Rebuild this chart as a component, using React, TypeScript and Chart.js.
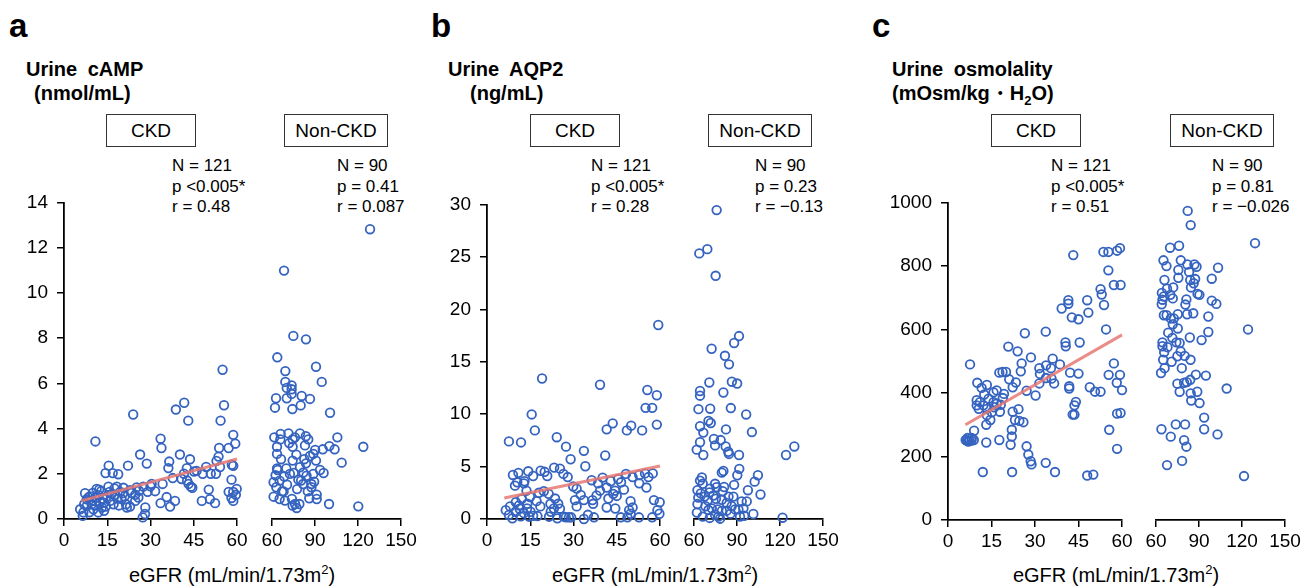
import React, { useEffect, useRef } from "react";
import { Chart, registerables } from "chart.js";
Chart.register(...registerables);

type Pt = [number, number];

const FONT = '"Liberation Sans", Arial, Helvetica, sans-serif';
const BLUE = "#3563C0";
const FIT = "rgba(230,120,115,0.85)";

// ---- tick labels ----
const ckdTicksX = [0, 15, 30, 45, 60];
const nonCkdTicksX = [60, 90, 120, 150];
const campTicksY = [0, 2, 4, 6, 8, 10, 12, 14];
const aqp2TicksY = [0, 5, 10, 15, 20, 25, 30];
const osmTicksY = [0, 200, 400, 600, 800, 1000];

// ---- stats text ----
const campStatsCkd = ["N = 121", "p <0.005*", "r = 0.48"];
const campStatsNon = ["N = 90", "p = 0.41", "r = 0.087"];
const aqp2StatsCkd = ["N = 121", "p <0.005*", "r = 0.28"];
const aqp2StatsNon = ["N = 90", "p = 0.23", "r = \u22120.13"];
const osmStatsCkd = ["N = 121", "p <0.005*", "r = 0.51"];
const osmStatsNon = ["N = 90", "p = 0.81", "r = \u22120.026"];

// ---- regression lines (CKD) ----
const campFit: Pt[] = [[6, 0.8], [60, 2.65]];
const aqp2Fit: Pt[] = [[6, 2.0], [60, 5.06]];
const osmFit: Pt[] = [[6, 300], [60, 583]];

// ---- Urine cAMP ----
const campCkd: Pt[] = [
  [55.0, 6.6], [55.5, 5.03], [41.7, 5.14], [38.8, 4.84], [43.1, 4.35], [54.3, 4.35], [24.0, 4.62], [10.9, 3.43],
  [33.5, 3.55], [33.8, 3.14], [58.7, 3.72], [59.4, 3.33], [57.1, 3.14], [53.8, 3.14], [40.2, 2.85], [26.4, 2.85],
  [28.7, 2.45], [43.7, 2.64], [36.5, 2.54], [53.6, 2.76], [36.2, 2.25], [22.2, 2.36], [15.5, 2.36], [14.4, 2.03],
  [16.9, 2.03], [18.8, 1.98], [49.3, 2.3], [42.6, 2.25], [45.1, 2.1], [41.6, 2.0], [48.1, 2.0], [50.9, 2.0],
  [52.7, 2.0], [54.1, 2.3], [58.2, 2.4], [58.7, 2.35], [58.1, 1.74], [37.7, 1.81], [40.8, 1.77], [43.2, 1.55],
  [44.0, 1.43], [34.2, 1.55], [30.4, 1.55], [15.4, 1.43], [18.3, 1.43], [20.6, 1.38], [22.9, 1.27], [25.2, 1.4],
  [27.5, 1.43], [29.0, 1.2], [31.6, 1.23], [7.3, 1.14], [11.3, 1.33], [12.9, 1.23], [9.0, 1.0], [10.8, 0.93],
  [14.9, 1.0], [17.7, 1.07], [20.0, 0.88], [24.7, 1.07], [21.5, 0.65], [21.8, 0.51], [22.9, 0.55], [24.7, 0.8],
  [33.5, 0.7], [35.6, 0.97], [36.8, 0.55], [38.5, 0.8], [47.8, 0.8], [50.2, 1.3], [50.6, 0.88], [52.4, 0.7],
  [57.1, 1.2], [58.7, 1.2], [59.9, 1.33], [58.7, 0.8], [58.1, 0.93], [59.6, 1.07], [28.2, 0.51], [28.1, 0.22],
  [27.3, 0.07], [5.6, 0.43], [6.5, 0.14], [7.9, 0.58], [10.2, 0.43], [11.9, 0.29], [13.1, 0.51], [13.9, 0.72],
  [16.0, 0.8], [17.2, 0.65], [7.9, 0.87], [9.6, 0.65], [12.5, 0.75], [6.7, 0.29], [13.9, 0.36], [46.0, 2.13],
  [52.9, 2.57], [19.5, 1.2], [23.5, 1.15], [26.0, 1.25], [8.5, 0.95], [10.0, 1.15], [12.0, 1.05], [15.8, 1.2],
  [18.5, 0.9], [11.0, 0.6], [14.5, 0.55], [16.5, 1.1], [8.8, 0.3], [19.0, 0.6], [20.5, 1.15], [9.5, 0.8],
  [12.2, 1.3], [44.5, 1.38], [42.7, 1.7], [25.8, 0.95], [7.0, 0.65], [13.5, 0.9], [17.5, 1.35], [21.0, 1.0],
  [30.0, 1.45],
];
const campNon: Pt[] = [
  [128.4, 12.6], [68.4, 10.8], [74.9, 7.96], [83.7, 7.81], [63.7, 7.03], [90.7, 6.62], [69.3, 6.43], [94.7, 5.96],
  [69.3, 5.96], [73.7, 5.81], [70.3, 5.7], [73.7, 5.64], [62.8, 5.25], [62.1, 4.84], [70.3, 5.25], [73.7, 5.44],
  [80.7, 5.35], [80.0, 4.94], [86.5, 5.22], [74.2, 4.78], [100.5, 4.62], [61.6, 3.55], [65.8, 3.46], [63.5, 3.14],
  [71.5, 3.72], [74.4, 3.46], [74.4, 3.14], [79.5, 3.72], [83.6, 3.6], [85.3, 3.46], [83.0, 3.2], [105.6, 3.55],
  [123.7, 3.14], [100.0, 3.17], [103.7, 3.03], [95.4, 3.03], [90.1, 3.0], [86.5, 2.74], [88.8, 2.83], [63.5, 2.83],
  [66.3, 2.6], [63.5, 2.2], [63.9, 2.13], [74.4, 2.54], [83.7, 2.42], [90.7, 2.54], [93.5, 2.13], [88.8, 1.96],
  [108.6, 2.45], [79.5, 2.25], [81.9, 2.02], [75.2, 2.0], [72.5, 1.96], [61.1, 1.6], [65.3, 1.67], [63.0, 1.38],
  [70.5, 1.49], [67.0, 1.2], [78.4, 1.71], [80.3, 1.67], [84.1, 1.88], [81.7, 1.52], [87.5, 1.52], [89.4, 1.62],
  [87.5, 1.38], [61.1, 0.97], [65.3, 0.87], [73.9, 0.87], [68.1, 1.2], [91.2, 1.06], [91.2, 0.87], [99.8, 0.65],
  [74.4, 0.58], [77.2, 0.48], [79.1, 0.65], [76.1, 0.65], [120.2, 0.55], [72.0, 3.3], [77.0, 2.8], [66.0, 3.7],
  [85.0, 1.2], [70.0, 2.2], [77.5, 1.3], [68.5, 1.85], [82.5, 2.6], [62.5, 1.9], [96.0, 2.0], [76.0, 3.55],
  [69.0, 0.8], [86.0, 0.9],
];

// ---- Urine AQP2 ----
const aqp2Ckd: Pt[] = [
  [59.4, 18.5], [19.1, 13.4], [39.2, 12.8], [55.6, 12.3], [58.9, 11.8], [55.0, 10.6], [57.3, 10.6], [15.5, 9.97],
  [16.6, 8.45], [43.6, 9.12], [41.5, 8.55], [50.0, 8.9], [48.5, 8.45], [53.8, 8.45], [58.9, 9.0], [7.6, 7.4],
  [11.8, 7.3], [24.2, 7.8], [27.4, 6.9], [29.0, 5.7], [33.6, 6.5], [34.1, 5.03], [41.0, 6.06], [10.9, 4.4],
  [14.3, 4.55], [18.6, 4.6], [23.3, 4.9], [25.3, 4.8], [26.5, 4.3], [9.7, 3.18], [10.5, 3.5], [12.8, 3.4],
  [13.7, 2.7], [16.0, 4.1], [20.9, 4.1], [29.9, 3.1], [31.1, 2.9], [36.3, 3.7], [40.1, 3.95], [42.9, 3.6],
  [44.4, 2.7], [43.8, 2.4], [45.5, 3.8], [48.2, 4.3], [50.5, 4.0], [52.8, 4.2], [54.8, 4.35], [57.5, 4.35],
  [52.8, 3.4], [55.3, 3.0], [39.2, 2.7], [41.5, 3.0], [42.1, 1.95], [41.5, 1.1], [45.0, 2.2], [19.7, 2.65],
  [21.4, 2.4], [22.0, 1.45], [23.6, 1.95], [24.7, 1.45], [25.3, 0.98], [17.2, 1.7], [14.9, 2.1], [14.0, 1.45],
  [11.3, 0.98], [31.1, 1.2], [33.6, 1.8], [36.6, 1.8], [38.0, 2.25], [36.8, 1.45], [49.8, 1.7], [50.5, 1.1],
  [49.3, 0.85], [57.9, 1.8], [59.9, 1.6], [6.5, 0.84], [7.6, 0.38], [8.8, 0.06], [9.9, 0.69], [11.1, 1.3],
  [11.7, 0.25], [12.8, 0.56], [13.9, 1.0], [14.6, 0.22], [15.1, 0.69], [17.5, 0.28], [21.5, 0.22], [22.1, 0.69],
  [23.2, 1.0], [24.4, 0.06], [26.7, 0.22], [27.3, 0.16], [28.4, 0.16], [29.2, 0.16], [33.6, 0.0], [37.1, 0.16],
  [46.4, 0.16], [48.7, 0.16], [49.8, 0.5], [52.7, 0.16], [57.3, 0.16], [59.1, 0.84], [59.8, 0.5], [8.0, 1.2],
  [10.0, 1.6], [12.0, 1.9], [13.0, 3.6], [18.0, 2.5], [20.0, 4.5], [28.0, 4.0], [35.0, 0.4], [38.5, 3.4],
  [46.5, 3.5], [47.5, 2.8], [56.0, 4.0], [16.0, 0.3], [18.5, 1.2], [30.5, 1.8], [44.5, 1.0], [9.0, 4.2],
  [32.5, 2.3],
];
const aqp2Non: Pt[] = [
  [75.8, 28.96], [63.7, 24.9], [69.3, 25.3], [75.1, 22.8], [91.4, 17.15], [88.0, 16.5], [72.3, 15.96], [81.6, 15.3],
  [84.4, 14.5], [70.7, 12.8], [86.4, 12.87], [90.1, 12.7], [64.2, 12.0], [64.2, 11.56], [80.5, 11.86], [63.1, 10.3],
  [71.3, 10.34], [85.7, 10.4], [96.4, 9.8], [70.1, 9.2], [71.7, 9.0], [64.2, 8.7], [66.5, 8.1], [82.3, 8.4],
  [100.4, 8.15], [73.9, 7.5], [78.6, 7.4], [74.7, 6.9], [82.1, 6.8], [83.9, 6.3], [84.4, 6.1], [64.2, 7.2],
  [61.9, 6.5], [66.5, 6.0], [91.4, 6.0], [124.2, 6.0], [130.0, 6.8], [80.5, 4.5], [79.4, 4.35], [91.6, 4.7],
  [90.2, 4.1], [104.6, 4.1], [102.3, 3.5], [97.6, 2.7], [106.4, 2.3], [64.2, 3.6], [66.1, 3.3], [62.4, 2.7],
  [64.7, 2.4], [71.1, 2.85], [74.7, 3.3], [75.8, 2.98], [75.3, 1.9], [79.4, 1.8], [84.1, 2.1], [87.5, 2.1],
  [82.8, 1.5], [86.3, 1.2], [93.3, 1.65], [96.8, 1.65], [94.5, 1.0], [91.0, 0.9], [88.7, 0.9], [62.4, 1.4],
  [66.1, 0.22], [70.1, 0.84], [72.4, 1.0], [77.1, 0.22], [78.2, 0.03], [79.4, 0.75], [74.7, 0.4], [82.8, 0.78],
  [92.1, 0.22], [101.4, 0.47], [121.8, 0.12], [69.6, 1.75], [67.3, 2.1], [70.8, 2.5], [63.0, 2.0], [65.5, 3.9],
  [68.0, 1.2], [73.5, 2.2], [76.5, 0.9], [80.0, 2.6], [85.5, 0.5], [88.0, 3.2], [62.0, 0.6], [71.0, 0.1],
  [81.0, 3.0], [95.0, 0.3],
];

// ---- Urine osmolality ----
const osmCkd: Pt[] = [
  [43.2, 834], [53.6, 844], [55.3, 844], [58.3, 848], [59.3, 856], [55.3, 786], [57.2, 740], [59.5, 740],
  [52.6, 727], [53.0, 710], [53.8, 677], [41.5, 692], [41.5, 681], [48.0, 692], [39.2, 666], [48.4, 653],
  [42.7, 638], [45.0, 632], [54.5, 600], [33.7, 593], [26.5, 588], [40.5, 559], [40.6, 547], [45.4, 559],
  [20.8, 546], [24.0, 531], [28.6, 512], [25.4, 493], [33.8, 487], [36.1, 508], [38.6, 490], [31.5, 478],
  [57.2, 493], [7.6, 490], [17.7, 464], [18.8, 466], [20.0, 466], [21.1, 443], [23.4, 433], [22.3, 418],
  [25.1, 468], [31.7, 460], [33.8, 447], [35.7, 445], [36.6, 430], [42.1, 464], [41.8, 421], [41.8, 414],
  [45.0, 461], [48.9, 418], [50.7, 404], [52.6, 404], [55.4, 457], [58.2, 432], [59.3, 457], [60.0, 409],
  [31.5, 430], [27.1, 407], [30.2, 392], [10.1, 432], [13.4, 425], [15.7, 402], [16.8, 408], [19.3, 397],
  [14.0, 382], [11.6, 416], [9.9, 377], [11.0, 371], [9.9, 361], [12.2, 361], [13.4, 350], [15.7, 371],
  [16.8, 366], [18.2, 363], [17.9, 341], [18.9, 384], [10.6, 350], [15.1, 339], [13.4, 330], [14.6, 315],
  [13.2, 300], [22.3, 341], [24.3, 349], [23.1, 315], [24.6, 312], [26.0, 308], [43.6, 361], [43.6, 332],
  [44.1, 372], [43.0, 332], [58.3, 335], [59.5, 337], [9.0, 281], [6.1, 252], [6.6, 250], [7.4, 250],
  [8.1, 250], [8.9, 252], [8.2, 258], [6.7, 258], [13.2, 244], [17.7, 252], [22.0, 284], [22.0, 263],
  [21.6, 237], [55.6, 284], [58.3, 224], [27.1, 232], [27.7, 206], [28.5, 185], [28.8, 175], [33.7, 180],
  [12.0, 151], [22.1, 151], [36.9, 151], [48.0, 140], [50.1, 143], [35.5, 478], [12.5, 395], [7.0, 247],
  [16.0, 355],
];
const osmNon: Pt[] = [
  [82.1, 957], [84.2, 913], [129.1, 857], [69.8, 843], [76.1, 849], [65.2, 804], [67.3, 786], [77.3, 804],
  [81.9, 791], [75.6, 774], [75.6, 750], [83.1, 768], [86.8, 791], [88.3, 784], [103.3, 781], [98.9, 747],
  [65.9, 743], [67.7, 716], [64.1, 703], [65.5, 692], [64.5, 682], [70.0, 697], [71.7, 686], [83.9, 743],
  [86.3, 733], [87.3, 746], [84.4, 720], [81.2, 683], [80.5, 667], [90.3, 697], [98.9, 679], [102.1, 669],
  [65.5, 634], [67.4, 634], [70.3, 624], [72.4, 624], [71.7, 606], [75.2, 593], [75.2, 637], [81.7, 637],
  [96.5, 630], [96.5, 582], [91.8, 557], [83.6, 565], [124.2, 590], [64.5, 550], [64.5, 538], [68.0, 535],
  [65.7, 519], [65.0, 496], [71.4, 564], [74.2, 550], [76.5, 548], [77.2, 522], [74.9, 507], [80.0, 508],
  [84.1, 496], [70.9, 490], [63.5, 455], [74.9, 422], [79.6, 425], [81.5, 427], [83.9, 434], [87.8, 450],
  [94.8, 447], [76.5, 397], [84.2, 392], [88.8, 397], [84.6, 370], [90.4, 362], [109.3, 407], [93.6, 317],
  [93.6, 281], [102.9, 265], [63.8, 281], [70.3, 258], [73.8, 296], [80.3, 296], [79.6, 247], [81.2, 227],
  [67.7, 170], [78.2, 183], [121.4, 136], [64.0, 668], [72.0, 720], [86.0, 640], [68.5, 580], [78.0, 470],
  [66.0, 470], [89.0, 700],
];

const YW = 60;
const XH = 40;
const PAD_T = 15;
const PAD_R = 20;

type BoxProps = {
  area: [number, number, number, number];
  xTicks: number[];
  yTicks: number[];
  showY: boolean;
  points: Pt[];
  fit?: Pt[];
};

function ScatterBox({ area, xTicks, yTicks, showY, points, fit }: BoxProps) {
  const ref = useRef<HTMLCanvasElement>(null);
  const [aL, aT, aR, aB] = area;
  const padL = showY ? 0 : 20;
  const left = aL - (showY ? YW : 0) - padL;
  const top = aT - PAD_T;
  const width = aR - aL + (showY ? YW : 0) + padL + PAD_R;
  const height = aB - aT + PAD_T + XH;

  useEffect(() => {
    const datasets: any[] = [];
    if (fit) {
      datasets.push({
        type: "line",
        data: fit.map(([x, y]) => ({ x, y })),
        borderColor: FIT,
        borderWidth: 3,
        pointRadius: 0,
        fill: false,
        clip: false,
        order: 0,
      });
    }
    datasets.push({
      type: "scatter",
      data: points.map(([x, y]) => ({ x, y })),
      pointRadius: 4.3,
      pointStyle: "circle",
      borderColor: BLUE,
      backgroundColor: "rgba(255,255,255,0)",
      borderWidth: 1.8,
      clip: false,
      order: 1,
    });
    const tickFont = { family: FONT, size: 19 };
    const chart = new Chart(ref.current!, {
      type: "scatter",
      data: { datasets },
      options: {
        animation: false,
        responsive: false,
        events: [],
        layout: { padding: { top: PAD_T, right: PAD_R, left: padL, bottom: 0 } },
        plugins: { legend: { display: false }, tooltip: { enabled: false } },
        scales: {
          x: {
            type: "linear",
            min: xTicks[0],
            max: xTicks[xTicks.length - 1],
            afterBuildTicks: (s: any) => {
              s.ticks = xTicks.map((v) => ({ value: v }));
            },
            afterFit: (s: any) => {
              s.height = XH;
            },
            grid: { display: true, drawOnChartArea: false, color: "#000", lineWidth: 1.5, tickLength: 7 },
            border: { display: true, color: "#000", width: 1.8 },
            ticks: {
              color: "#000",
              font: tickFont,
              padding: 3,
              maxRotation: 0,
              autoSkip: false,
              callback: (v: any) => String(v),
            },
          },
          y: {
            type: "linear",
            display: showY,
            min: yTicks[0],
            max: yTicks[yTicks.length - 1],
            afterBuildTicks: (s: any) => {
              s.ticks = yTicks.map((v) => ({ value: v }));
            },
            afterFit: (s: any) => {
              s.width = showY ? YW : 0;
            },
            grid: { display: true, drawOnChartArea: false, color: "#000", lineWidth: 1.5, tickLength: 7 },
            border: { display: true, color: "#000", width: 1.8 },
            ticks: {
              color: "#000",
              font: tickFont,
              padding: 9,
              autoSkip: false,
              callback: (v: any) => String(v),
            },
          },
        },
      } as any,
    });
    return () => chart.destroy();
  }, []);

  return (
    <canvas
      ref={ref}
      width={width}
      height={height}
      style={{ position: "absolute", left, top, width, height }}
    />
  );
}

type PanelText = {
  letter: string;
  letterX: number;
  titleX: number;
  title1: React.ReactNode;
  title2: React.ReactNode;
  title2X: number;
  ckdBoxX: number;
  nonBoxX: number;
  ckdStatsX: number;
  nonStatsX: number;
  ckdStats: string[];
  nonStats: string[];
  axisCenter: number;
};

function PanelLabels(p: PanelText) {
  const base: React.CSSProperties = {
    position: "absolute",
    fontFamily: FONT,
    color: "#000",
    whiteSpace: "nowrap",
  };
  const boxStyle = (x: number, w: number): React.CSSProperties => ({
    ...base,
    left: x,
    top: 114,
    width: w,
    height: 33,
    boxSizing: "border-box",
    border: "1.3px solid #333",
    textAlign: "center",
    fontSize: 19,
    lineHeight: "31px",
  });
  const statsStyle = (x: number): React.CSSProperties => ({
    ...base,
    left: x,
    top: 156,
    fontSize: 17,
    lineHeight: "20.5px",
  });
  return (
    <>
      <div style={{ ...base, left: p.letterX, top: 9, fontSize: 33, fontWeight: "bold", lineHeight: "33px" }}>
        {p.letter}
      </div>
      <div style={{ ...base, left: p.titleX, top: 57, fontSize: 20, fontWeight: "bold", lineHeight: "24px", wordSpacing: 5 }}>
        {p.title1}
      </div>
      <div style={{ ...base, left: p.title2X, top: 81, fontSize: 20, fontWeight: "bold", lineHeight: "24px" }}>
        {p.title2}
      </div>
      <div style={boxStyle(p.ckdBoxX, 90)}>CKD</div>
      <div style={boxStyle(p.nonBoxX, 104)}>Non-CKD</div>
      <div style={statsStyle(p.ckdStatsX)}>
        {p.ckdStats.map((s) => (
          <div key={s}>{s}</div>
        ))}
      </div>
      <div style={statsStyle(p.nonStatsX)}>
        {p.nonStats.map((s) => (
          <div key={s}>{s}</div>
        ))}
      </div>
      <div
        style={{
          ...base,
          left: p.axisCenter - 150,
          width: 300,
          top: 563,
          textAlign: "center",
          fontSize: 20,
          lineHeight: "24px",
        }}
      >
        eGFR (mL/min/1.73m<sup style={{ fontSize: 13, lineHeight: 0 }}>2</sup>)
      </div>
    </>
  );
}

export default function App() {
  return (
    <div
      style={{
        position: "fixed",
        left: 0,
        top: 0,
        width: 1311,
        height: 588,
        background: "#fff",
        overflow: "hidden",
      }}
    >
      <PanelLabels
        letter="a"
        letterX={9}
        titleX={26}
        title1="Urine cAMP"
        title2="(nmol/mL)"
        title2X={34}
        ckdBoxX={106}
        nonBoxX={284}
        ckdStatsX={172}
        nonStatsX={337}
        ckdStats={campStatsCkd}
        nonStats={campStatsNon}
        axisCenter={232}
      />
      <PanelLabels
        letter="b"
        letterX={431}
        titleX={448}
        title1="Urine AQP2"
        title2="(ng/mL)"
        title2X={470}
        ckdBoxX={530}
        nonBoxX={708}
        ckdStatsX={591}
        nonStatsX={755}
        ckdStats={aqp2StatsCkd}
        nonStats={aqp2StatsNon}
        axisCenter={655}
      />
      <PanelLabels
        letter="c"
        letterX={872}
        titleX={892}
        title1="Urine osmolality"
        title2={
          <>
            (mOsm/kg・H<sub style={{ fontSize: 13, lineHeight: 0 }}>2</sub>O)
          </>
        }
        title2X={892}
        ckdBoxX={991}
        nonBoxX={1170}
        ckdStatsX={1051}
        nonStatsX={1212}
        ckdStats={osmStatsCkd}
        nonStats={osmStatsNon}
        axisCenter={1116}
      />
      <ScatterBox area={[64, 197, 237, 519]} xTicks={ckdTicksX} yTicks={campTicksY} showY points={campCkd} fit={campFit} />
      <ScatterBox area={[272, 197, 401, 519]} xTicks={nonCkdTicksX} yTicks={campTicksY} showY={false} points={campNon} />
      <ScatterBox area={[487, 199, 660, 519]} xTicks={ckdTicksX} yTicks={aqp2TicksY} showY points={aqp2Ckd} fit={aqp2Fit} />
      <ScatterBox area={[694, 199, 823, 519]} xTicks={nonCkdTicksX} yTicks={aqp2TicksY} showY={false} points={aqp2Non} />
      <ScatterBox area={[948, 197, 1122, 520]} xTicks={ckdTicksX} yTicks={osmTicksY} showY points={osmCkd} fit={osmFit} />
      <ScatterBox area={[1156, 197, 1285, 520]} xTicks={nonCkdTicksX} yTicks={osmTicksY} showY={false} points={osmNon} />
    </div>
  );
}
